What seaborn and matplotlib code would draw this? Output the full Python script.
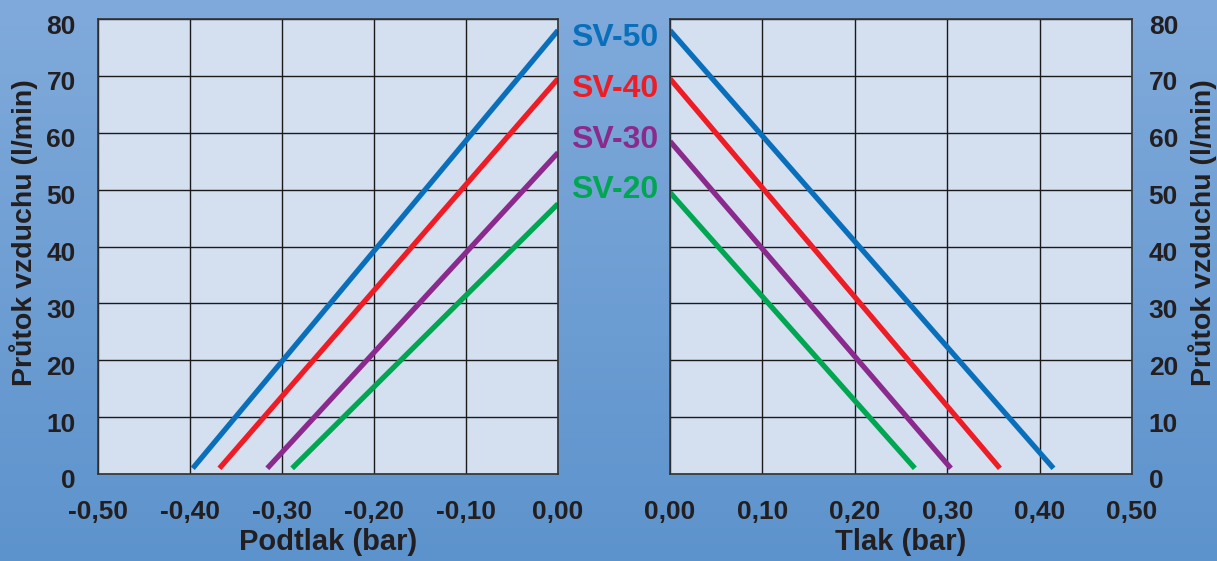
import numpy as np
import pandas as pd
import matplotlib
matplotlib.use("Agg")
import matplotlib.pyplot as plt
import matplotlib.transforms as mtransforms
from matplotlib.colors import LinearSegmentedColormap
from matplotlib.ticker import FuncFormatter
import seaborn as sns

# data
models = ["SV-50", "SV-40", "SV-30", "SV-20"]
vac_x0 = [-0.397, -0.368, -0.316, -0.289]     # podtlak at ~zero flow
vac_q_max = [78.0, 69.5, 56.5, 47.5]          # flow at 0 bar (vacuum side)
pres_x1 = [0.415, 0.357, 0.304, 0.265]        # tlak at ~zero flow
pres_q_max = [78.0, 69.5, 58.5, 49.5]         # flow at 0 bar (pressure side)
q_min = [1.0, 1.0, 1.0, 1.0]
vac_ticks = [-0.5, -0.4, -0.3, -0.2, -0.1, 0.0]
pres_ticks = [0.0, 0.1, 0.2, 0.3, 0.4, 0.5]
flow_ticks = [0, 10, 20, 30, 40, 50, 60, 70, 80]

colors = ["#0a6fba", "#ee1c25", "#8b2a8d", "#00a651"]
palette = dict(zip(models, colors))

vac = pd.DataFrame({
    "model": models * 2,
    "tlak": vac_x0 + [0.0] * 4,
    "prutok": q_min + vac_q_max,
})
pres = pd.DataFrame({
    "model": models * 2,
    "tlak": [0.0] * 4 + pres_x1,
    "prutok": pres_q_max + q_min,
})

sns.set_style("white")
plt.rcParams["font.family"] = ["Liberation Sans", "DejaVu Sans"]
plt.rcParams["font.weight"] = "bold"
txt = "#231f20"

fig = plt.figure(figsize=(12.17, 5.61), dpi=100)

# blue gradient background
bg = fig.add_axes([0, 0, 1, 1], zorder=-10)
cmap = LinearSegmentedColormap.from_list("bg", ["#5d93cc", "#80aadb"])
bg.imshow(np.linspace(0, 1, 256).reshape(-1, 1)[::-1], cmap=cmap, aspect="auto",
          extent=[0, 1, 0, 1])
bg.axis("off")

ax1 = fig.add_axes([98 / 1217, 1 - 474 / 561, 460 / 1217, 455 / 561])
ax2 = fig.add_axes([670 / 1217, 1 - 474 / 561, 462 / 1217, 455 / 561])

sns.lineplot(data=vac, x="tlak", y="prutok", hue="model", palette=palette,
             lw=3.8, legend=False, ax=ax1, solid_capstyle="butt")
sns.lineplot(data=pres, x="tlak", y="prutok", hue="model", palette=palette,
             lw=3.8, legend=False, ax=ax2, solid_capstyle="butt")

fmt = FuncFormatter(lambda v, _: f"{round(v, 2) + 0.0:.2f}".replace(".", ","))
ylab = "Průtok vzduchu (l/min)"

for ax, xt, xl, xlab in [(ax1, vac_ticks, (-0.5, 0.0), "Podtlak (bar)"),
                         (ax2, pres_ticks, (0.0, 0.5), "Tlak (bar)")]:
    ax.set_facecolor("#d4dff0")
    ax.set_xlim(*xl)
    ax.set_ylim(0, 80)
    ax.set_xticks(xt)
    ax.set_yticks(flow_ticks)
    ax.xaxis.set_major_formatter(fmt)
    ax.grid(True, color="#1a1a1a", lw=1.0)
    ax.set_axisbelow(True)
    for s in ax.spines.values():
        s.set_color("#333333")
        s.set_linewidth(1.2)
    ax.tick_params(length=0, labelsize=19, colors=txt)
    ax.tick_params(axis="x", pad=19)
    ax.set_xlabel(xlab, fontsize=21, fontweight="bold", color=txt)
    ax.xaxis.set_label_coords(0.5, -0.118)
    ax.set_ylabel(ylab, fontsize=20.5, fontweight="bold", color=txt)

ax1.tick_params(axis="y", pad=16)
ax1.yaxis.set_label_coords(-0.13, 0.53)
ax2.yaxis.tick_right()
ax2.yaxis.set_label_position("right")
ax2.tick_params(axis="y", pad=12)
ax2.yaxis.set_label_coords(1.122, 0.53)

# y tick numbers sit a little below their grid lines in the original
shift = mtransforms.ScaledTranslation(0, -5 / 100, fig.dpi_scale_trans)
for ax in (ax1, ax2):
    for t in ax.yaxis.get_major_ticks():
        for lab in (t.label1, t.label2):
            lab.set_transform(lab.get_transform() + shift)
    for lab in ax.get_xticklabels() + ax.get_yticklabels():
        lab.set_fontweight("bold")

# series names between the panels
label_y = [76.7, 67.7, 58.7, 49.9]
tr = mtransforms.blended_transform_factory(fig.transFigure, ax1.transData)
for name, c, y in zip(models, colors, label_y):
    fig.text(615 / 1217, y, name, transform=tr, ha="center", va="center",
             fontsize=23, fontweight="bold", color=c)

fig.savefig("out.png", dpi=100)
